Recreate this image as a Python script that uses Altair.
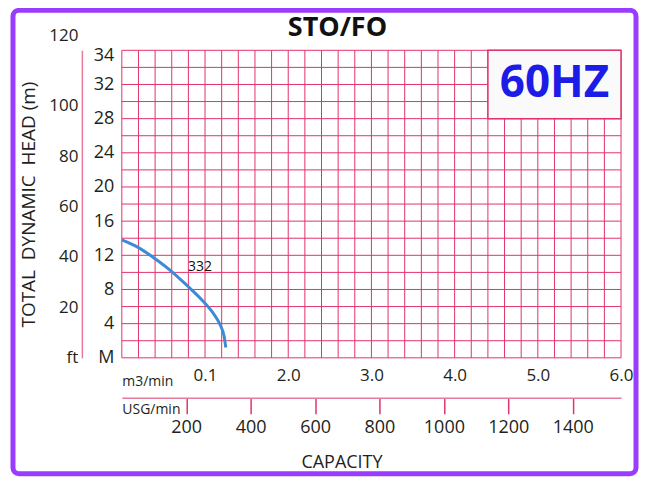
import altair as alt
import pandas as pd

# ---------------- data ----------------
TITLE = "STO/FO"
FREQ_LABEL = "60HZ"
CURVE_NAME = "332"

# pump curve 332: capacity (m3/min) vs total head (m)
FLOW_M3 = [0.0, 0.2, 0.4, 0.6, 0.78, 0.96, 1.1, 1.18, 1.23, 1.25]
HEAD_M = [13.8, 12.9, 11.6, 10.1, 8.5, 6.8, 5.2, 3.9, 2.5, 1.2]

CURVE_LABEL_X = [0.94]
CURVE_LABEL_Y = [10.6]

M3_TICKS = [1, 2, 3, 4, 5, 6]
M3_LABELS = ["0.1", "2.0", "3.0", "4.0", "5.0", "6.0"]
HEAD_M_TICKS = [0, 4, 8, 12, 16, 20, 24, 28, 32, 34]
HEAD_M_LABELS = ["M", "4", "8", "12", "16", "20", "24", "28", "32", "34"]
HEAD_FT_TICKS = [0, 20, 40, 60, 80, 100, 120]
HEAD_FT_LABELS = ["ft", "20", "40", "60", "80", "100", "120"]
USG_TICKS = [200, 400, 600, 800, 1000, 1200, 1400]

GRID_X = [round(i * 0.2, 1) for i in range(31)]   # every 0.2 m3/min
GRID_Y = list(range(0, 37, 2))                     # every 2 m

BOX_X = [4.4, 6.0]
BOX_Y = [28, 36]

# ---------------- style ----------------
FONT = "Open Sans"
TXT = "#231f20"
GRID = "#e2336a"
GRID_LIGHT = "#e77b9c"
PURPLE = "#9a3cff"
CURVE_BLUE = "#3d8bd6"
HZ_BLUE = "#1c1ce6"


def label_expr(ticks, labels):
    expr = "datum.label"
    for t, l in reversed(list(zip(ticks, labels))):
        expr = f"datum.value == {t} ? '{l}' : ({expr})"
    return expr


XS = alt.Scale(domain=[0, 6], nice=False, zero=False)
YS = alt.Scale(domain=[0, 36], nice=False, zero=False)

one = pd.DataFrame({"k": [0], "t": [TITLE]})

frame = alt.Chart(one).mark_rect(
    fillOpacity=0, stroke=PURPLE, strokeWidth=5, cornerRadius=6
).encode(x=alt.value(-109), x2=alt.value(515), y=alt.value(-40), y2=alt.value(424))

title = alt.Chart(one).mark_text(
    font=FONT, fontSize=27, fontWeight="bold", color="#111111", align="center", baseline="alphabetic"
).encode(x=alt.value(216), y=alt.value(-14), text="t:N")

vgrid = alt.Chart(pd.DataFrame({"gx": GRID_X})).mark_rule(
    color=GRID, strokeWidth=1
).encode(x=alt.X("gx:Q", scale=XS, axis=None))

hgrid = alt.Chart(pd.DataFrame({"gy": GRID_Y})).mark_rule(
    color=GRID, strokeWidth=1
).encode(y=alt.Y("gy:Q", scale=YS, axis=None))

box_df = pd.DataFrame({"x0": [BOX_X[0]], "x1": [BOX_X[1]], "y0": [BOX_Y[0]], "y1": [BOX_Y[1]],
                       "cx": [sum(BOX_X) / 2], "cy": [sum(BOX_Y) / 2], "t": [FREQ_LABEL]})
box = alt.Chart(box_df).mark_rect(fill="#fafafa", stroke=GRID, strokeWidth=1.5).encode(
    x=alt.X("x0:Q", scale=XS, axis=None), x2="x1:Q",
    y=alt.Y("y0:Q", scale=YS, axis=None), y2="y1:Q")

hz = alt.Chart(box_df).mark_text(
    font=FONT, fontSize=44, fontWeight="bold", color=HZ_BLUE, align="center", baseline="middle"
).encode(x=alt.X("cx:Q", scale=XS, axis=None), y=alt.Y("cy:Q", scale=YS, axis=None), text="t:N")

m3_axis = alt.Axis(
    orient="bottom", values=M3_TICKS, labelExpr=label_expr(M3_TICKS, M3_LABELS),
    domain=False, ticks=False, grid=False, labelPadding=10, labelFlush=False, labelOverlap=False,
    labelFont=FONT, labelFontSize=17, labelColor=TXT,
    title="m3/min", titleX=0, titleY=24, titleAlign="left", titleBaseline="middle",
    titleFont=FONT, titleFontSize=14, titleFontWeight="normal", titleColor=TXT)

m_axis = alt.Axis(
    orient="left", values=HEAD_M_TICKS, labelExpr=label_expr(HEAD_M_TICKS, HEAD_M_LABELS),
    domain=False, ticks=False, grid=False, labelPadding=8, labelOverlap=False,
    labelFont=FONT, labelFontSize=18, labelColor=TXT,
    labelOffset={"condition": {"test": "datum.value == 34", "value": -12}, "value": 0},
    title=None)

curve = alt.Chart(pd.DataFrame({"q": FLOW_M3, "h": HEAD_M})).mark_line(
    color=CURVE_BLUE, strokeWidth=3, interpolate="monotone"
).encode(x=alt.X("q:Q", scale=XS, axis=m3_axis), y=alt.Y("h:Q", scale=YS, axis=m_axis))

lab332 = alt.Chart(pd.DataFrame({"x": CURVE_LABEL_X, "y": CURVE_LABEL_Y, "t": [CURVE_NAME]})).mark_text(
    font=FONT, fontSize=14, color="#111111"
).encode(x=alt.X("x:Q", scale=XS, axis=None), y=alt.Y("y:Q", scale=YS, axis=None), text="t:N")

usg = alt.Chart(pd.DataFrame({"u": [0]})).mark_point(opacity=0).encode(
    x=alt.X("u:Q", scale=alt.Scale(domain=[0, 1550], nice=False, zero=False),
            axis=alt.Axis(orient="bottom", offset=40, values=USG_TICKS, format="d", grid=False,
                          domainColor=GRID_LIGHT, domainWidth=1.5,
                          tickColor=GRID, tickSize=16, tickWidth=1.5,
                          labelPadding=5, labelFlush=False, labelOverlap=False,
                          labelFont=FONT, labelFontSize=18, labelColor=TXT,
                          title="USG/min", titleX=0, titleY=12, titleAlign="left",
                          titleBaseline="middle", titleFont=FONT, titleFontSize=14,
                          titleFontWeight="normal", titleColor=TXT)))

ft = alt.Chart(pd.DataFrame({"c": [0], "f": [0]})).mark_point(opacity=0).encode(
    x=alt.X("c:Q", scale=alt.Scale(domain=[0, 1]),
            axis=alt.Axis(orient="bottom", labels=False, ticks=False, domain=False, grid=False,
                          title="CAPACITY", titleX=220, titleY=105, titleAlign="center",
                          titleBaseline="middle", titleFont=FONT, titleFontSize=18,
                          titleFontWeight="normal", titleColor=TXT)),
    y=alt.Y("f:Q", scale=alt.Scale(domain=[0, 122], nice=False, zero=False),
            axis=alt.Axis(orient="left", offset=40, values=HEAD_FT_TICKS,
                          labelExpr=label_expr(HEAD_FT_TICKS, HEAD_FT_LABELS),
                          domainColor=GRID_LIGHT, domainWidth=1.5, ticks=False, grid=False,
                          labelPadding=4, labelOverlap=False,
                          labelFont=FONT, labelFontSize=17, labelColor=TXT,
                          labelOffset={"condition": {"test": "datum.value == 120", "value": -20}, "value": 0},
                          title="TOTAL\u00a0 DYNAMIC\u00a0 HEAD (m)", titleX=-53, titleY=154,
                          titleAlign="center", titleBaseline="middle", titleFont=FONT,
                          titleFontSize=19, titleFontWeight="normal", titleColor=TXT)))

chart = alt.layer(frame, title, vgrid, hgrid, box, hz, curve, lab332, usg, ft).resolve_scale(
    x="independent", y="independent"
).properties(
    width=500, height=308,
    padding={"left": 114, "top": 42, "right": 18, "bottom": 120},
    autosize=alt.AutoSizeParams(type="none"),
    background="white",
).configure_view(strokeWidth=0)

chart.save("out.html", embed_options={"renderer": "svg", "actions": False})
